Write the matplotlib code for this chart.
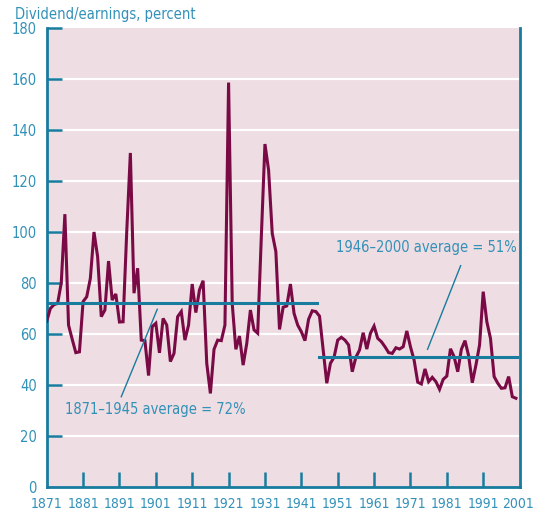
import matplotlib
matplotlib.use('Agg')
import matplotlib.pyplot as plt
from matplotlib import font_manager
from matplotlib.transforms import ScaledTranslation

# payout ratio, one value a year 1871-2000
years = list(range(1871, 2001))
payout = [65, 70, 71.5, 72, 80, 107, 63.5, 58, 52.7, 53,
          72.7, 74.6, 81.8, 100, 90.3, 66.8, 69.4, 88.6, 73.3, 75.7,
          64.7, 64.8, 100, 131, 76, 85.8, 57.6, 57.4, 43.7, 62.9,
          64.2, 52.6, 66.1, 63.5, 49.2, 52.4, 66.8, 68.8, 57.6, 63.5,
          79.6, 68.4, 77.3, 80.9, 48.5, 36.7, 54, 57.6, 57.4, 63.5,
          158.6, 72, 54, 59.2, 47.8, 56.3, 69.4, 61.6, 60.3, 98,
          134.5, 124.3, 99.5, 92.3, 61.8, 70.5, 71, 79.6, 68.1, 63.5,
          60.9, 57.4, 65.8, 69.1, 68.8, 67, 54, 40.7, 48.5, 50.9,
          57.6, 58.7, 57.6, 55.7, 45.2, 50.9, 53.7, 60.5, 54.1, 60.3,
          63.1, 58.3, 57, 55, 52.7, 52.4, 54.6, 54.1, 55, 61.2,
          55, 49.8, 41.1, 40.4, 46.3, 41.3, 43, 41.3, 38.3, 42.2,
          43.5, 54.2, 51.1, 45.2, 54, 57.4, 51.4, 40.9, 47.8, 55.7,
          76.6, 64.8, 58.3, 43.3, 40.7, 38.7, 38.9, 43.3, 35.4, 34.8]

avg_periods = [(1871, 1945.4), (1945.9, 2000.2)]
avg_values = [72, 51]
avg_labels = ['1871\u20131945 average = 72%', '1946\u20132000 average = 51%']

xticks = [1871, 1881, 1891, 1901, 1911, 1921, 1931, 1941, 1951, 1961, 1971, 1981, 1991, 2001]
yticks = list(range(0, 181, 20))

line_col = '#7a0a45'
blue = '#187c9e'
txt_col = '#3391b8'
bg = '#eedde2'

# condensed face if there is one
names = {f.name for f in font_manager.fontManager.ttflist}
fam = 'DejaVu Sans'
for cand in ['Liberation Sans Narrow', 'DejaVu Sans Condensed']:
    if cand in names:
        fam = cand
        break
plt.rcParams['font.family'] = [fam, 'DejaVu Sans']
plt.rcParams['font.stretch'] = 'condensed'
fs = 10.5

fig = plt.figure(figsize=(5.34, 5.16), dpi=100)
ax = fig.add_axes([46.7 / 534, 1 - 487 / 516, (520.3 - 46.7) / 534, (487 - 28) / 516])
ax.set_facecolor(bg)

for v in yticks[1:-1]:
    ax.axhline(v, color='white', lw=1.6, zorder=1)

ax.plot(years, payout, color=line_col, lw=2.2, zorder=3, solid_joinstyle='miter')

for (a, b), v in zip(avg_periods, avg_values):
    ax.plot([a, b], [v, v], color=blue, lw=2.2, zorder=4)

# annotations
ax.plot([1901.4, 1891.5], [69.7, 35.4], color=blue, lw=1.0, zorder=4)
ax.text(1900.8, 30.2, avg_labels[0], color=txt_col, fontsize=fs, ha='center', va='center')
ax.plot([1984.8, 1975.7], [86.8, 54.0], color=blue, lw=1.0, zorder=4)
ax.text(1975.3, 93.8, avg_labels[1], color=txt_col, fontsize=fs, ha='center', va='center')

ax.set_xlim(1871, 2001.2)
ax.set_ylim(0, 180)
ax.set_xticks(xticks)
ax.set_yticks(yticks)
ax.set_xticklabels([str(t) for t in xticks])

ax.spines['top'].set_visible(False)
for s in ['left', 'right', 'bottom']:
    ax.spines[s].set_color(blue)
    ax.spines[s].set_linewidth(2)

ax.tick_params(axis='both', direction='in', length=11, width=1.8, color=blue,
               labelcolor=txt_col, labelsize=fs, pad=7)
ax.tick_params(axis='x', labelsize=10)
for t in ax.xaxis.get_major_ticks():
    if t.get_loc() in (1871, 2001):
        t.tick1line.set_visible(False)
ax.yaxis.get_major_ticks()[0].tick1line.set_visible(False)

# keep last year label inside the picture
last = ax.get_xticklabels()[-1]
last.set_transform(last.get_transform() + ScaledTranslation(-1 / 72, 0, fig.dpi_scale_trans))

fig.text(15 / 534, 1 - 15 / 516, 'Dividend/earnings, percent', color=txt_col,
         fontsize=fs, ha='left', va='center')

fig.savefig('out.png', dpi=100, facecolor='white')
